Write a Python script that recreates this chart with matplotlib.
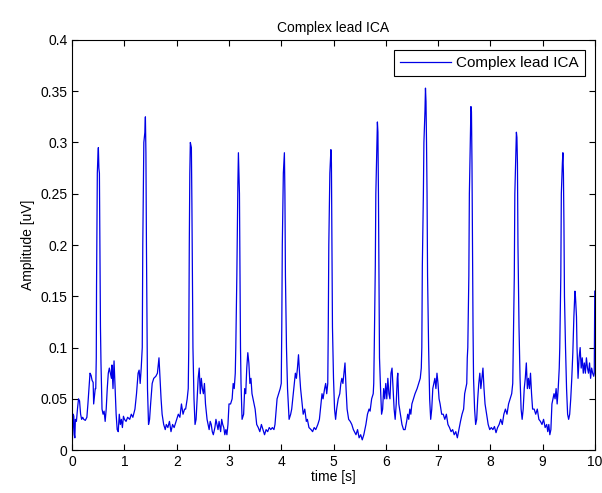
import numpy as np
import matplotlib
matplotlib.use("Agg")
import matplotlib.pyplot as plt

# trace: time [s] and amplitude [uV], one line per beat
t = [0.0, 0.01, 0.02, 0.03, 0.04, 0.05, 0.06, 0.08, 0.1, 0.12, 0.14, 0.16, 0.18, 0.2, 0.22, 0.25, 0.28,
     0.3, 0.32, 0.34, 0.36, 0.38, 0.4, 0.41, 0.42, 0.44,
     0.45, 0.46, 0.465, 0.48, 0.49, 0.50, 0.51, 0.52, 0.53, 0.54, 0.55, 0.56, 0.57, 0.59, 0.61, 0.63,
     0.65, 0.67, 0.69, 0.71, 0.73, 0.75, 0.76, 0.78, 0.8, 0.82, 0.84, 0.86, 0.88, 0.9, 0.92, 0.94, 0.96,
     0.98, 1.0, 1.03, 1.06, 1.1, 1.13, 1.16, 1.2, 1.23, 1.26, 1.28, 1.3, 1.32,
     1.34, 1.35, 1.37, 1.39, 1.40, 1.41, 1.42, 1.43, 1.44, 1.46, 1.48, 1.5, 1.53, 1.56, 1.6, 1.63, 1.66,
     1.68, 1.7, 1.72, 1.75, 1.78, 1.8, 1.83, 1.86, 1.89, 1.92, 1.95, 1.98, 2.0, 2.03, 2.06, 2.09, 2.12,
     2.15, 2.17, 2.2, 2.22,
     2.23, 2.24, 2.25, 2.26, 2.28, 2.29, 2.30, 2.31, 2.33, 2.35, 2.37, 2.39, 2.41, 2.43, 2.45, 2.47, 2.49,
     2.51, 2.53, 2.55, 2.58, 2.6, 2.62, 2.64, 2.66, 2.68, 2.7, 2.73, 2.75, 2.77, 2.79, 2.81, 2.84, 2.86,
     2.88, 2.9, 2.92, 2.94, 2.96, 2.98, 3.0, 3.03, 3.06, 3.08, 3.1,
     3.12, 3.13, 3.15, 3.17, 3.18, 3.19, 3.20, 3.21, 3.22, 3.23, 3.25, 3.28, 3.3, 3.32, 3.34, 3.36, 3.38,
     3.4, 3.42, 3.44, 3.46, 3.5, 3.53, 3.56, 3.59, 3.62, 3.65, 3.68, 3.71, 3.74, 3.77, 3.8, 3.83, 3.86,
     3.88, 3.92, 3.95, 3.98,
     4.0, 4.01, 4.02, 4.04, 4.06, 4.07, 4.08, 4.1, 4.12, 4.15, 4.18, 4.2, 4.23, 4.25, 4.27, 4.29, 4.31,
     4.33, 4.35, 4.37, 4.4, 4.42, 4.45, 4.48, 4.5, 4.53, 4.57, 4.6, 4.63, 4.66, 4.7, 4.73, 4.76, 4.78,
     4.8, 4.83, 4.85, 4.87,
     4.89, 4.9, 4.91, 4.93, 4.95, 4.96, 4.97, 4.98, 5.0, 5.02, 5.04, 5.06, 5.09, 5.12, 5.14, 5.16, 5.18,
     5.2, 5.22, 5.24, 5.26, 5.29, 5.32, 5.35, 5.38, 5.4, 5.43, 5.46, 5.49, 5.52, 5.55, 5.58, 5.62, 5.65,
     5.68, 5.7, 5.73, 5.76,
     5.77, 5.78, 5.8, 5.81, 5.83, 5.84, 5.85, 5.86, 5.87, 5.88, 5.9, 5.92, 5.94, 5.96, 5.98, 6.0, 6.02,
     6.04, 6.06, 6.08, 6.1, 6.12, 6.14, 6.16, 6.18, 6.2, 6.22, 6.23, 6.25, 6.28, 6.31, 6.34, 6.37, 6.4,
     6.42, 6.44, 6.46, 6.48, 6.5, 6.53, 6.56, 6.6, 6.63, 6.66,
     6.68, 6.69, 6.7, 6.72, 6.73, 6.75, 6.76, 6.77, 6.78, 6.79, 6.8, 6.82, 6.84, 6.86, 6.88, 6.9, 6.92,
     6.94, 6.96, 6.98, 7.0, 7.02, 7.04, 7.07, 7.1, 7.13, 7.16, 7.19, 7.22, 7.25, 7.28, 7.31, 7.34, 7.37,
     7.4, 7.43, 7.46, 7.49, 7.51, 7.53, 7.55,
     7.56, 7.57, 7.59, 7.6, 7.62, 7.63, 7.64, 7.65, 7.66, 7.67, 7.68, 7.7, 7.72, 7.74, 7.76, 7.78, 7.8,
     7.82, 7.84, 7.86, 7.88, 7.9, 7.93, 7.96, 7.99, 8.02, 8.05, 8.08, 8.11, 8.14, 8.17, 8.2, 8.23, 8.26,
     8.29, 8.32, 8.35, 8.38, 8.41, 8.43,
     8.44, 8.46, 8.47, 8.49, 8.5, 8.51, 8.52, 8.53, 8.55, 8.57, 8.59, 8.61, 8.63, 8.65, 8.67, 8.69, 8.71,
     8.73, 8.75, 8.77, 8.79, 8.81, 8.84, 8.87, 8.9, 8.93, 8.96, 8.99, 9.02, 9.05, 9.08, 9.1, 9.12, 9.14,
     9.16, 9.18, 9.2, 9.22, 9.24, 9.26, 9.28, 9.3, 9.32,
     9.33, 9.35, 9.36, 9.38, 9.39, 9.4, 9.41, 9.42, 9.44, 9.46, 9.48, 9.5, 9.52, 9.54, 9.56, 9.58, 9.6,
     9.62, 9.63, 9.65, 9.66, 9.68, 9.7, 9.72, 9.74, 9.76, 9.78, 9.8, 9.82, 9.84, 9.86, 9.88, 9.9, 9.92,
     9.94, 9.96, 9.98, 9.99, 10.0]
amp = [0.005, 0.02, 0.035, 0.033, 0.015, 0.012, 0.03, 0.028, 0.04, 0.05, 0.048, 0.035, 0.03, 0.032, 0.03,
       0.029, 0.032, 0.045, 0.06, 0.075, 0.073, 0.068, 0.066, 0.045, 0.05, 0.06,
       0.06, 0.09, 0.16, 0.27, 0.285, 0.295, 0.275, 0.27, 0.19, 0.12, 0.085, 0.06, 0.04, 0.035, 0.038,
       0.028, 0.04, 0.06, 0.075, 0.08, 0.075, 0.07, 0.083, 0.06, 0.087, 0.06, 0.035, 0.02, 0.018, 0.035,
       0.025, 0.03, 0.022, 0.033, 0.03, 0.028, 0.032, 0.03, 0.035, 0.032, 0.04, 0.055, 0.075, 0.078,
       0.065, 0.08,
       0.1, 0.2, 0.3, 0.31, 0.325, 0.29, 0.2, 0.13, 0.06, 0.025, 0.03, 0.045, 0.065, 0.07, 0.072, 0.075,
       0.09, 0.07, 0.05, 0.035, 0.025, 0.02, 0.025, 0.022, 0.028, 0.018, 0.025, 0.022, 0.027, 0.03,
       0.035, 0.032, 0.045, 0.035, 0.04, 0.04, 0.05, 0.06,
       0.1, 0.2, 0.27, 0.30, 0.295, 0.24, 0.17, 0.1, 0.05, 0.025, 0.03, 0.05, 0.07, 0.08, 0.055, 0.07,
       0.06, 0.055, 0.065, 0.045, 0.03, 0.025, 0.02, 0.028, 0.025, 0.018, 0.015, 0.022, 0.03, 0.025,
       0.02, 0.028, 0.018, 0.03, 0.025, 0.022, 0.015, 0.02, 0.015, 0.025, 0.045, 0.045, 0.05, 0.065,
       0.06, 0.075,
       0.1, 0.17, 0.26, 0.29, 0.27, 0.25, 0.17, 0.1, 0.065, 0.03, 0.035, 0.06, 0.055, 0.08, 0.095, 0.085,
       0.065, 0.07, 0.055, 0.05, 0.04, 0.025, 0.022, 0.018, 0.025, 0.02, 0.015, 0.02, 0.018, 0.022,
       0.02, 0.022, 0.02, 0.025, 0.05, 0.055, 0.06, 0.065,
       0.12, 0.2, 0.27, 0.29, 0.25, 0.17, 0.1, 0.06, 0.03, 0.035, 0.04, 0.055, 0.065, 0.075, 0.07, 0.08,
       0.093, 0.075, 0.06, 0.045, 0.035, 0.04, 0.028, 0.03, 0.022, 0.02, 0.018, 0.022, 0.02, 0.025,
       0.03, 0.045, 0.055, 0.05, 0.06, 0.065, 0.055, 0.065,
       0.12, 0.2, 0.27, 0.293, 0.28, 0.2, 0.12, 0.07, 0.04, 0.03, 0.04, 0.05, 0.055, 0.065, 0.07, 0.065,
       0.075, 0.085, 0.06, 0.04, 0.03, 0.028, 0.025, 0.02, 0.018, 0.015, 0.02, 0.012, 0.015, 0.01, 0.015,
       0.025, 0.035, 0.04, 0.038, 0.05, 0.055, 0.065,
       0.1, 0.18, 0.25, 0.3, 0.32, 0.31, 0.25, 0.17, 0.09, 0.06, 0.035, 0.04, 0.06, 0.05, 0.065, 0.05,
       0.07, 0.055, 0.05, 0.075, 0.08, 0.06, 0.04, 0.03, 0.045, 0.07, 0.075, 0.045, 0.035, 0.025, 0.02,
       0.02, 0.028, 0.035, 0.03, 0.04, 0.035, 0.045, 0.05, 0.055, 0.06, 0.065, 0.07, 0.08,
       0.1, 0.18, 0.25, 0.3, 0.33, 0.353, 0.34, 0.3, 0.25, 0.17, 0.1, 0.05, 0.03, 0.04, 0.06, 0.065, 0.07,
       0.06, 0.075, 0.065, 0.05, 0.045, 0.035, 0.035, 0.03, 0.035, 0.025, 0.022, 0.018, 0.02, 0.015,
       0.018, 0.012, 0.02, 0.028, 0.035, 0.04, 0.055, 0.06, 0.065, 0.09,
       0.1, 0.17, 0.25, 0.31, 0.335, 0.33, 0.28, 0.2, 0.12, 0.07, 0.04, 0.025, 0.03, 0.05, 0.065, 0.075,
       0.06, 0.07, 0.08, 0.06, 0.045, 0.035, 0.025, 0.02, 0.022, 0.02, 0.023, 0.017, 0.022, 0.025, 0.03,
       0.025, 0.035, 0.04, 0.035, 0.045, 0.05, 0.055, 0.065, 0.1,
       0.17, 0.25, 0.29, 0.31, 0.305, 0.28, 0.2, 0.12, 0.07, 0.04, 0.03, 0.04, 0.06, 0.07, 0.085, 0.06,
       0.07, 0.06, 0.075, 0.055, 0.04, 0.04, 0.035, 0.04, 0.03, 0.028, 0.025, 0.03, 0.022, 0.025, 0.018,
       0.025, 0.015, 0.02, 0.045, 0.05, 0.055, 0.05, 0.06, 0.045, 0.06, 0.08, 0.1,
       0.17, 0.25, 0.28, 0.29, 0.27, 0.22, 0.15, 0.1, 0.06, 0.035, 0.03, 0.035, 0.05, 0.07, 0.095, 0.13,
       0.155, 0.15, 0.13, 0.1, 0.07, 0.09, 0.1, 0.08, 0.09, 0.075, 0.085, 0.075, 0.09, 0.08, 0.075,
       0.085, 0.07, 0.08, 0.075, 0.072, 0.075, 0.155, 0.15]

xticks = np.arange(0, 11, 1)
yticks = [0, 0.05, 0.1, 0.15, 0.2, 0.25, 0.3, 0.35, 0.4]
ytick_labels = ["0", "0.05", "0.1", "0.15", "0.2", "0.25", "0.3", "0.35", "0.4"]

plt.rcParams['font.family'] = ['Liberation Sans', 'DejaVu Sans']

fig = plt.figure(figsize=(6.02, 4.93), dpi=100)
ax = fig.add_axes([0.12, 0.087, 0.868, 0.832])
n = min(len(t), len(amp))
ax.plot(t[:n], amp[:n], color=(0, 0, 0.9), lw=0.9, label="Complex lead ICA")
ax.set_xlim(0, 10)
ax.set_ylim(0, 0.4)
ax.set_xticks(xticks)
ax.set_yticks(yticks)
ax.set_yticklabels(ytick_labels)
ax.tick_params(direction='in', top=True, right=True, length=4, labelsize=10)
ax.set_xlabel("time [s]", fontsize=10, labelpad=1)
ax.set_ylabel("Amplitude [uV]", fontsize=10)
ax.set_title("Complex lead ICA", fontsize=10, pad=6)
leg = ax.legend(loc='upper right', fancybox=False, framealpha=1, edgecolor='black',
                fontsize=11, handlelength=3.3, handletextpad=0.35, borderpad=0.4,
                borderaxespad=0.65)
leg.get_frame().set_linewidth(0.8)
fig.savefig("out.png", dpi=100, facecolor='white')
